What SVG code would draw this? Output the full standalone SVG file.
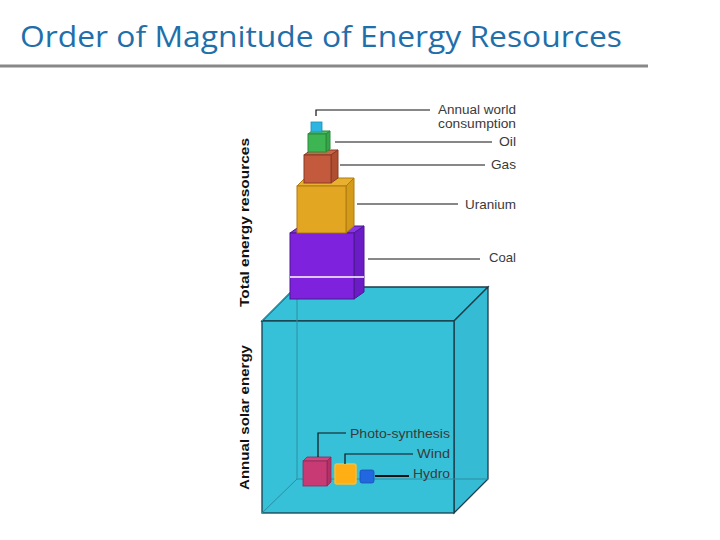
<svg xmlns="http://www.w3.org/2000/svg" width="720" height="540" viewBox="0 0 720 540">
<style>
.lbl{font-family:"Liberation Sans",Arial,sans-serif;font-size:13.5px;fill:#3a3a3a;}
.sm{font-size:12px;}
.ax{font-family:"Liberation Sans",Arial,sans-serif;font-size:13.5px;font-weight:bold;fill:#111;}
.ln{stroke:#111;stroke-width:1.2;fill:none;}
.edge{stroke:#1d3c4a;stroke-width:1.3;}
</style>
<rect width="720" height="540" fill="#fff"/>
<g id="title">
<text x="20" y="47" font-family="'Open Sans','Noto Sans',sans-serif" font-size="29" fill="#1f6fab" textLength="602" lengthAdjust="spacingAndGlyphs">Order of Magnitude of Energy Resources</text>
<line x1="0" y1="66" x2="648" y2="66" stroke="#888" stroke-width="3"/>
</g>
<g id="solar-cube">
<polygon points="262,321 296,287 488,287 454,321" fill="#37c1d9" class="edge"/>
<polygon points="454,321 488,287 488,479 454,513" fill="#35bcd4" class="edge"/>
<rect x="262" y="321" width="192" height="192" fill="#37c1d9" class="edge"/>
<line x1="297" y1="287" x2="297" y2="479" stroke="#2a8ea3" stroke-width="1"/>
<line x1="297" y1="479" x2="488" y2="479" stroke="#2a8ea3" stroke-width="1"/>
<line x1="262" y1="513" x2="297" y2="479" stroke="#2a8ea3" stroke-width="1"/>
<line x1="262" y1="321" x2="296" y2="287" stroke="#2a8ea3" stroke-width="1"/>
</g>
<g id="coal">
<polygon points="290,233 300,226 364,226 354,233" fill="#8a35e6" stroke="#4a1890" stroke-width="1"/>
<polygon points="354,233 364,226 364,292 354,299" fill="#6c1cc4" stroke="#4a1890" stroke-width="1"/>
<rect x="290" y="233" width="64" height="66" fill="#7e22de" stroke="#4a1890" stroke-width="1"/>
<line x1="290" y1="277" x2="364" y2="277" stroke="#fff" stroke-width="1.5"/>
</g>
<g id="uranium">
<polygon points="297,186 305,178 354,178 346,186" fill="#e8b030" stroke="#b07a10" stroke-width="1"/>
<polygon points="346,186 354,178 354,226 346,233" fill="#d49a1a" stroke="#b07a10" stroke-width="1"/>
<rect x="297" y="186" width="49" height="47" fill="#e2a622" stroke="#b07a10" stroke-width="1"/>
</g>
<g id="gas">
<polygon points="304,155 311,150 338,150 331,155" fill="#cc6646" stroke="#8a3a22" stroke-width="1"/>
<polygon points="331,155 338,150 338,178 331,183" fill="#b04e32" stroke="#8a3a22" stroke-width="1"/>
<rect x="304" y="155" width="27" height="28" fill="#c35a3d" stroke="#8a3a22" stroke-width="1"/>
</g>
<g id="oil">
<polygon points="308,134 312,131 330,131 326,134" fill="#4cc060" stroke="#2a8a3a" stroke-width="1"/>
<polygon points="326,134 330,131 330,149 326,152" fill="#34a548" stroke="#2a8a3a" stroke-width="1"/>
<rect x="308" y="134" width="18" height="18" fill="#3db552" stroke="#2a8a3a" stroke-width="1"/>
</g>
<g id="world">
<rect x="311" y="122" width="11" height="10" fill="#2bb5e0" stroke="#1a90b8" stroke-width="0.8"/>
</g>
<g id="photo">
<polygon points="303,461 307,457 331,457 327,461" fill="#d2467f" stroke="#8a2a5a" stroke-width="0.8"/>
<polygon points="327,461 331,457 331,482 327,486" fill="#b23266" stroke="#8a2a5a" stroke-width="0.8"/>
<rect x="303" y="461" width="24" height="25" fill="#c83a73" stroke="#8a2a5a" stroke-width="0.8"/>
</g>
<g id="wind">
<rect x="335" y="464" width="21" height="20" rx="2" fill="#ffae14" stroke="#f0c040" stroke-width="1.5"/>
</g>
<g id="hydro">
<rect x="360" y="470" width="14" height="13" rx="2" fill="#2167e0" stroke="#1a50b0" stroke-width="0.8"/>
</g>
<g id="connectors">
<polyline class="ln" points="316,116 316,110 430,110"/>
<line class="ln" x1="335" y1="142" x2="492" y2="142"/>
<line class="ln" x1="340" y1="165" x2="485" y2="165"/>
<line class="ln" x1="357" y1="204" x2="458" y2="204"/>
<line class="ln" x1="368" y1="259" x2="480" y2="259"/>
<polyline class="ln" points="318,457 318,433 346,433" stroke="#1b2f3a"/>
<polyline class="ln" points="345,464 345,454 413,454" stroke="#1b2f3a"/>
<line x1="375" y1="476" x2="409" y2="476" stroke="#111" stroke-width="2.2"/>
</g>
<g id="labels">
<text class="lbl sm" x="438" y="114" textLength="78" lengthAdjust="spacingAndGlyphs">Annual world</text>
<text class="lbl sm" x="438" y="128" textLength="78" lengthAdjust="spacingAndGlyphs">consumption</text>
<text class="lbl" x="499" y="146" textLength="17" lengthAdjust="spacingAndGlyphs">Oil</text>
<text class="lbl" x="491" y="169" textLength="25" lengthAdjust="spacingAndGlyphs">Gas</text>
<text class="lbl" x="465" y="209" textLength="51" lengthAdjust="spacingAndGlyphs">Uranium</text>
<text class="lbl" x="489" y="262" textLength="27" lengthAdjust="spacingAndGlyphs">Coal</text>
<text class="lbl" x="350" y="438" textLength="100" lengthAdjust="spacingAndGlyphs" fill="#1b2f3a">Photo-synthesis</text>
<text class="lbl" x="417" y="458" textLength="33" lengthAdjust="spacingAndGlyphs">Wind</text>
<text class="lbl" x="413" y="478" textLength="37" lengthAdjust="spacingAndGlyphs">Hydro</text>
<text class="ax" transform="translate(249,307) rotate(-90)" textLength="169" lengthAdjust="spacingAndGlyphs">Total energy resources</text>
<text class="ax" transform="translate(249,490) rotate(-90)" textLength="145" lengthAdjust="spacingAndGlyphs">Annual solar energy</text>
</g>
</svg>
